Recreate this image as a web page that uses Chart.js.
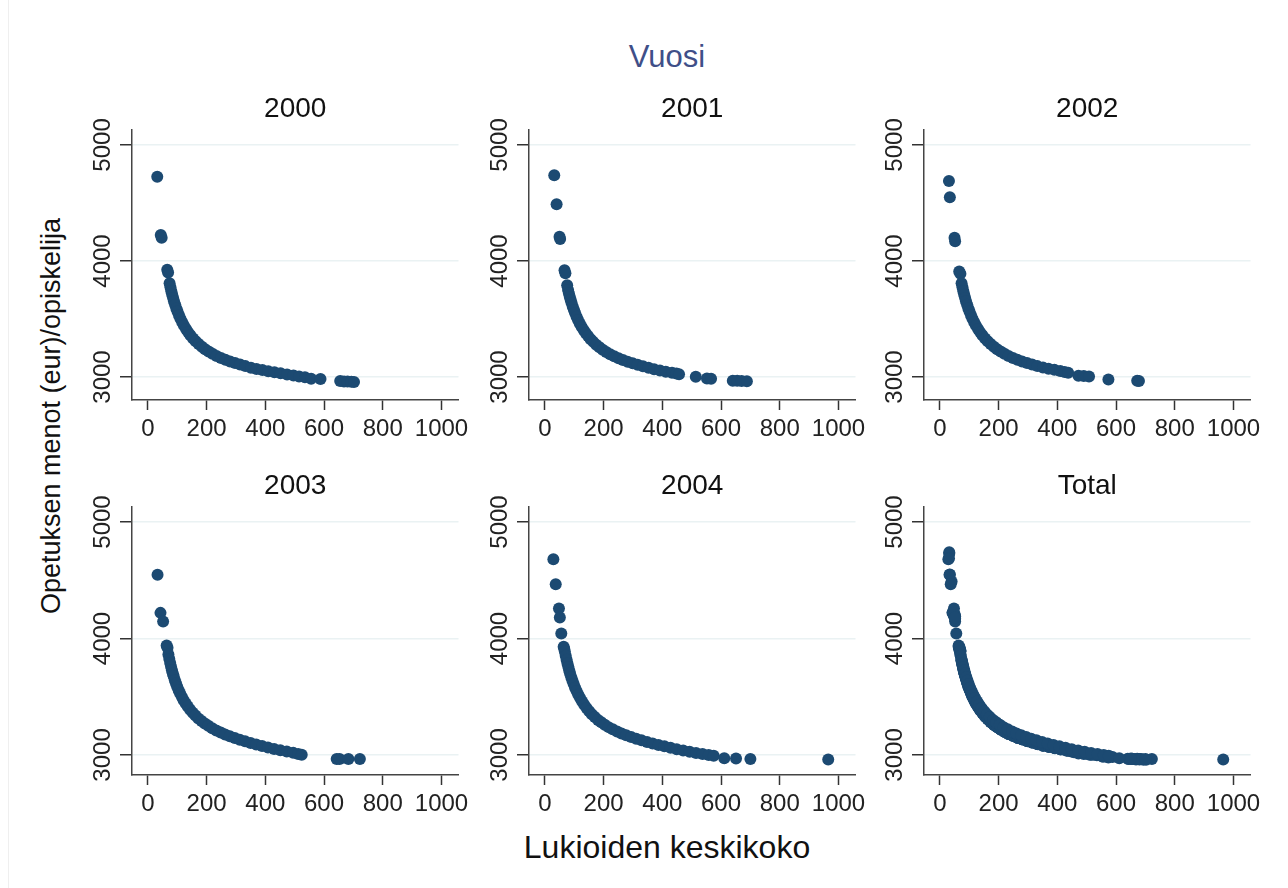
<!DOCTYPE html>
<html><head><meta charset="utf-8">
<script src="https://cdn.jsdelivr.net/npm/chart.js@4.4.1/dist/chart.umd.min.js"></script>
<style>
html,body{margin:0;padding:0;background:#fff;}
body{width:1288px;height:888px;position:relative;overflow:hidden;font-family:'Liberation Sans',Arial,Helvetica,sans-serif;}
canvas{position:absolute;}
.lbl{position:absolute;white-space:nowrap;transform:translate(-50%,-50%);line-height:1.15;}
</style></head><body>
<div style="position:absolute;left:8px;top:0;width:1px;height:888px;background:#efefef"></div>
<div class="lbl" style="left:667px;top:57px;font-size:31px;color:#3f4f88">Vuosi</div>
<div class="lbl" style="left:52px;top:416px;font-size:27px;color:#111;transform:translate(-50%,-50%) rotate(-90deg)">Opetuksen menot (eur)/opiskelija</div>
<div class="lbl" style="left:667px;top:847px;font-size:32px;color:#111">Lukioiden keskikoko</div>
<script>
// ---- data ----
const panelNames = ['2000', '2001', '2002', '2003', '2004', 'Total'];
const xTicks = [0, 200, 400, 600, 800, 1000];
const yTicks = [3000, 4000, 5000];

const x2000 = [32,44,47,66,69, 74,77,80,83,86,89,93,97,101,106,111,117,123,130,137,145,154,163,173,184,195,207,220,234,249,264,280,297,314,332,351,370,390,410,431,452,474,496,515, 535,556,588,655,668,680,693,702];
const y2000 = [4727,4225,4200,3925,3900, 3808,3773,3740,3709,3681,3654,3622,3591,3564,3532,3503,3472,3443,3414,3387,3360,3332,3308,3284,3260,3239,3219,3200,3181,3164,3148,3134,3120,3107,3094,3080,3070,3060,3050,3041,3032,3022,3013,3005, 2998,2985,2982,2965,2962,2962,2960,2958];

const x2001 = [32,40,50,52,67,70, 76,79,82,85,88,91,95,99,103,108,113,119,125,132,139,147,156,165,175,186,197,209,222,236,251,266,282,299,316,334,353,372,392,412,433,448,457, 514,552,566,640,655,670,688];
const y2001 = [4740,4490,4210,4190,3920,3895, 3790,3751,3719,3690,3663,3638,3606,3577,3551,3520,3492,3462,3434,3406,3380,3353,3326,3303,3279,3256,3236,3216,3197,3179,3162,3146,3132,3118,3106,3092,3079,3068,3057,3046,3036,3030,3024, 3002,2988,2986,2968,2967,2966,2964];

const x2002 = [31,34,50,52,66,70, 74,77,80,83,86,89,93,97,101,106,111,117,123,130,137,145,154,163,173,184,195,207,220,234,249,264,280,297,314,332,351,370,390,410,425,437, 472,490,508,574,672,678];
const y2002 = [4690,4550,4200,4170,3910,3890, 3809,3773,3740,3709,3681,3654,3622,3591,3564,3532,3503,3472,3443,3414,3387,3360,3332,3308,3284,3260,3239,3219,3200,3181,3164,3148,3134,3120,3107,3094,3082,3072,3062,3052,3044,3036, 3012,3008,3004,2978,2968,2966];

const x2003 = [33,43,52,64,67, 70,73,76,79,82,85,88,92,96,100,105,110,116,122,129,136,144,153,162,172,183,194,206,219,233,248,263,279,296,313,331,350,369,389,409,430,451,473,495,512,524, 643,653,683,722];
const y2003 = [4548,4220,4145,3940,3920, 3862,3825,3790,3758,3728,3700,3675,3642,3613,3586,3555,3527,3497,3470,3442,3416,3389,3362,3338,3314,3291,3270,3250,3230,3211,3192,3175,3160,3145,3131,3117,3103,3090,3077,3064,3052,3040,3029,3018,3008,3001, 2966,2966,2966,2965];

const x2004 = [29,37,48,51,56, 64,66,68,71,74,77,80,83,86,90,94,98,103,108,114,120,127,134,142,151,160,170,181,192,204,217,231,246,261,277,294,311,329,348,367,387,407,428,449,471,493,515,537,558,575, 611,651,700,965];
const y2004 = [4680,4465,4258,4180,4043, 3930,3912,3888,3852,3818,3785,3755,3726,3700,3667,3637,3609,3578,3549,3518,3489,3459,3431,3403,3375,3350,3326,3301,3280,3259,3239,3220,3201,3185,3169,3154,3140,3126,3112,3099,3086,3074,3062,3050,3039,3028,3017,3008,3000,2993, 2972,2970,2965,2962];

// ---- build ----
const F = "'Liberation Sans', Arial, Helvetica, sans-serif";
const zip = (xs, ys) => xs.map((x, i) => ({x: x, y: ys[i]}));
const yearSets = [zip(x2000,y2000), zip(x2001,y2001), zip(x2002,y2002), zip(x2003,y2003), zip(x2004,y2004)];
const totalSet = [].concat(...yearSets);
const allSets = yearSets.concat([totalSet]);

const colAxisX = [132, 529, 924];
const rows = [
  {top: 130, bottom: 400, yMin: 2802, yMax: 5129},
  {top: 507, bottom: 775, yMin: 2828, yMax: 5129}
];
const plotW = 328, yAxisW = 45, rightPad = 14, titleH = 38, xAxisH = 50;
const plain = v => String(v);

allSets.forEach((pts, i) => {
  const r = rows[Math.floor(i / 3)], cx = colAxisX[i % 3];
  const cv = document.createElement('canvas');
  const w = yAxisW + plotW + rightPad, h = titleH + (r.bottom - r.top) + xAxisH;
  cv.width = w; cv.height = h;
  cv.style.left = (cx - yAxisW) + 'px';
  cv.style.top = (r.top - titleH) + 'px';
  cv.style.width = w + 'px'; cv.style.height = h + 'px';
  document.body.appendChild(cv);
  new Chart(cv, {
    type: 'scatter',
    data: {datasets: [{data: pts, pointRadius: 6, pointHoverRadius: 6, pointBackgroundColor: '#1c4a72', pointBorderWidth: 0, pointBorderColor: '#1c4a72'}]},
    options: {
      responsive: false, animation: false, devicePixelRatio: 1,
      layout: {padding: {left: 0, right: rightPad, top: 0, bottom: 0}},
      plugins: {
        legend: {display: false}, tooltip: {enabled: false},
        title: {display: true, text: panelNames[i], fullSize: false, color: '#111',
                font: {size: 28, family: F, weight: 'normal', lineHeight: 1.2}, padding: {top: 0.4, bottom: 4}}
      },
      scales: {
        x: {
          type: 'linear', min: -54, max: 1058,
          afterBuildTicks: s => { s.ticks = xTicks.map(v => ({value: v})); },
          afterFit: s => { s.height = xAxisH; },
          grid: {drawOnChartArea: false, tickLength: 10, tickColor: '#333', tickWidth: 1.5},
          border: {display: true, color: '#444', width: 1.5},
          ticks: {font: {size: 24, family: F}, color: '#222', padding: 5, minRotation: 0, maxRotation: 0, autoSkip: false, callback: plain}
        },
        y: {
          type: 'linear', min: r.yMin, max: r.yMax,
          afterBuildTicks: s => { s.ticks = yTicks.map(v => ({value: v})); },
          afterFit: s => { s.width = yAxisW; },
          grid: {color: '#eaf2f3', lineWidth: 1.5, tickLength: 12, tickColor: '#333', tickWidth: 1.5},
          border: {display: true, color: '#444', width: 1.5},
          ticks: {font: {size: 24, family: F}, color: '#222', padding: -9.7, minRotation: 90, maxRotation: 90, crossAlign: 'center', autoSkip: false, callback: plain}
        }
      }
    }
  });
});
</script>
</body></html>
